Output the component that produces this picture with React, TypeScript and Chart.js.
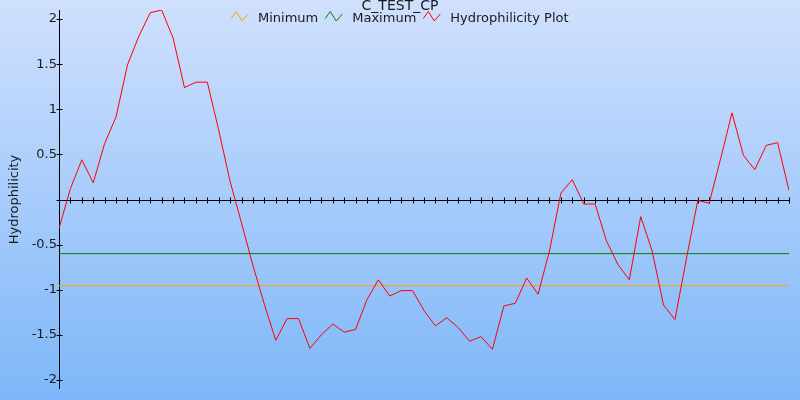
import React, { useEffect, useRef } from 'react';
import { Chart, registerables } from 'chart.js';

Chart.register(...registerables);

const TITLE = 'C_TEST_CP';
const Y_AXIS_TITLE = 'Hydrophilicity';
const SERIES_NAMES = ['Minimum', 'Maximum', 'Hydrophilicity Plot'];
const SERIES_COLORS = ['#ffa500', '#008000', '#ff0000'];

const POSITIONS = [
  1, 2, 3, 4, 5, 6, 7, 8, 9, 10, 11, 12, 13, 14, 15, 16, 17, 18, 19, 20,
  21, 22, 23, 24, 25, 26, 27, 28, 29, 30, 31, 32, 33, 34, 35, 36, 37, 38, 39, 40,
  41, 42, 43, 44, 45, 46, 47, 48, 49, 50, 51, 52, 53, 54, 55, 56, 57, 58, 59, 60,
  61, 62, 63, 64, 65,
];

const HYDROPHILICITY = [
  -0.32, 0.12, 0.44, 0.185, 0.62, 0.915, 1.49, 1.81, 2.07, 2.1,
  1.79, 1.24, 1.3, 1.3, 0.77, 0.2, -0.26, -0.73, -1.16, -1.56,
  -1.32, -1.32, -1.65, -1.5, -1.38, -1.47, -1.44, -1.11, -0.89, -1.07,
  -1.01, -1.01, -1.23, -1.4, -1.31, -1.42, -1.57, -1.52, -1.66, -1.18,
  -1.15, -0.87, -1.05, -0.57, 0.07, 0.22, -0.05, -0.05, -0.46, -0.72,
  -0.89, -0.19, -0.57, -1.17, -1.33, -0.66, -0.01, -0.04, 0.45, 0.96,
  0.49, 0.33, 0.6, 0.63, 0.1,
];

const MINIMUM_LEVEL = -0.955;
const MAXIMUM_LEVEL = -0.6;

const Y_MIN = -2.1;
const Y_MAX = 2.1;
const Y_STEP = 0.5;

const FONT = 'DejaVu Sans';
const TEXT_COLOR = '#1a1a1a';

function drawZigzag(ctx: CanvasRenderingContext2D, x: number, color: string) {
  ctx.save();
  ctx.strokeStyle = color;
  ctx.lineWidth = 1;
  ctx.beginPath();
  ctx.moveTo(x, 18.5);
  ctx.lineTo(x + 5, 11.5);
  ctx.lineTo(x + 11, 21);
  ctx.lineTo(x + 17, 14);
  ctx.stroke();
  ctx.restore();
}

const decorPlugin = {
  id: 'decor',
  beforeDraw(chart: any) {
    const { ctx, width, height } = chart;
    const g = ctx.createLinearGradient(0, 0, 0, height);
    g.addColorStop(0, '#d0e0fd');
    g.addColorStop(1, '#7db7f9');
    ctx.save();
    ctx.fillStyle = g;
    ctx.fillRect(0, 0, width, height);
    ctx.restore();
  },
  beforeDatasetsDraw(chart: any) {
    const { ctx, chartArea } = chart;
    const xs = chart.scales.x;
    const ys = chart.scales.y;
    const zeroY = Math.round(ys.getPixelForValue(0)) + 0.5;
    const axisX = Math.round(chartArea.left) + 0.5;
    ctx.save();
    ctx.strokeStyle = '#000';
    ctx.lineWidth = 1;
    ctx.beginPath();
    // y axis
    ctx.moveTo(axisX, chartArea.top);
    ctx.lineTo(axisX, chartArea.bottom);
    ys.ticks.forEach((t: any) => {
      const py = Math.round(ys.getPixelForValue(t.value)) + 0.5;
      ctx.moveTo(axisX - 3, py);
      ctx.lineTo(axisX + 3, py);
    });
    // x axis at zero
    ctx.moveTo(chartArea.left, zeroY);
    ctx.lineTo(chartArea.right, zeroY);
    POSITIONS.forEach((p) => {
      const px = Math.round(xs.getPixelForValue(p)) + 0.5;
      ctx.moveTo(px, zeroY - 3);
      ctx.lineTo(px, zeroY + 3);
    });
    ctx.stroke();
    ctx.restore();
  },
  afterDraw(chart: any) {
    const { ctx, width } = chart;
    ctx.save();
    ctx.fillStyle = TEXT_COLOR;
    ctx.textBaseline = 'alphabetic';
    ctx.textAlign = 'center';
    ctx.font = `14px "${FONT}"`;
    ctx.fillText(TITLE, width / 2, 9.5);

    ctx.font = `13px "${FONT}"`;
    ctx.textAlign = 'left';
    const datasets = chart.data.datasets;
    const iconW = 17;
    const gapIconText = 10;
    const gapItems = 7;
    const widths = datasets.map((d: any) => ctx.measureText(d.label).width);
    let total = 0;
    widths.forEach((w: number, i: number) => {
      total += iconW + gapIconText + w + (i < widths.length - 1 ? gapItems : 0);
    });
    let x = Math.round(width / 2 - total / 2);
    datasets.forEach((d: any, i: number) => {
      drawZigzag(ctx, x, d.borderColor);
      ctx.fillStyle = TEXT_COLOR;
      ctx.fillText(d.label, x + iconW + gapIconText, 22);
      x += iconW + gapIconText + widths[i] + gapItems;
    });
    ctx.restore();
  },
};

export default function App() {
  const ref = useRef<HTMLCanvasElement | null>(null);

  useEffect(() => {
    if (!ref.current) return;
    Chart.defaults.font.family = FONT;
    const first = POSITIONS[0];
    const last = POSITIONS[POSITIONS.length - 1];
    const chart = new Chart(ref.current, {
      type: 'line',
      data: {
        datasets: [
          {
            label: SERIES_NAMES[0],
            data: [
              { x: first, y: MINIMUM_LEVEL },
              { x: last, y: MINIMUM_LEVEL },
            ],
            borderColor: SERIES_COLORS[0],
            borderWidth: 1,
            pointRadius: 0,
            order: 2,
          },
          {
            label: SERIES_NAMES[1],
            data: [
              { x: first, y: MAXIMUM_LEVEL },
              { x: last, y: MAXIMUM_LEVEL },
            ],
            borderColor: SERIES_COLORS[1],
            borderWidth: 1,
            pointRadius: 0,
            order: 1,
          },
          {
            label: SERIES_NAMES[2],
            data: POSITIONS.map((p, i) => ({ x: p, y: HYDROPHILICITY[i] })),
            borderColor: SERIES_COLORS[2],
            borderWidth: 1,
            pointRadius: 0,
            tension: 0,
            order: 0,
          },
        ],
      },
      options: {
        animation: false,
        responsive: false,
        devicePixelRatio: 1,
        layout: { padding: { top: 10, right: 11, bottom: 11, left: 0 } },
        plugins: {
          legend: { display: false },
          title: { display: false },
          tooltip: { enabled: false },
        },
        scales: {
          x: {
            type: 'linear',
            display: false,
            min: first,
            max: last,
          },
          y: {
            type: 'linear',
            min: Y_MIN,
            max: Y_MAX,
            grid: { display: false, drawTicks: false },
            border: { display: false },
            ticks: {
              stepSize: Y_STEP,
              includeBounds: false,
              padding: 2,
              color: TEXT_COLOR,
              font: { size: 13, family: FONT },
              callback: (v: any) => (Number(v) === 0 ? '' : String(v)),
            },
            title: {
              display: true,
              text: Y_AXIS_TITLE,
              color: TEXT_COLOR,
              font: { size: 13, family: FONT },
              padding: { top: 7, bottom: 0 },
            },
            afterFit: (scale: any) => {
              scale.width = 59;
            },
          },
        },
      },
      plugins: [decorPlugin],
    });
    return () => chart.destroy();
  }, []);

  return (
    <div style={{ position: 'absolute', left: 0, top: 0, width: 800, height: 400 }}>
      <canvas ref={ref} width={800} height={400} style={{ display: 'block' }} />
    </div>
  );
}
